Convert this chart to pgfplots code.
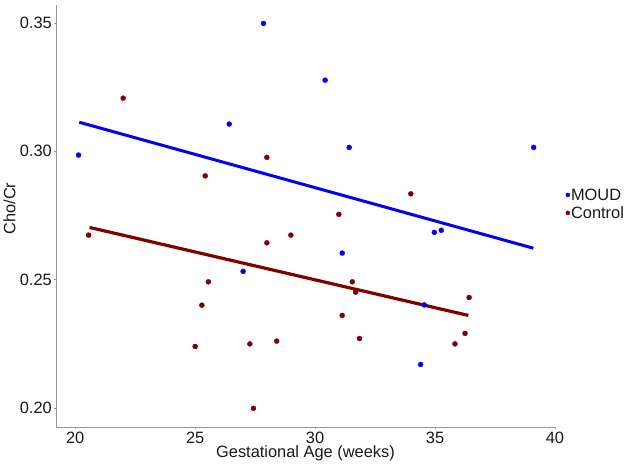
\documentclass[border=0pt]{standalone}
\usepackage{fontspec}
\setmainfont{Liberation Sans}
\usepackage{pgfplots}
\pgfplotsset{compat=1.18}
\definecolor{moud}{RGB}{0,0,255}
\definecolor{ctrl}{RGB}{128,0,0}
\definecolor{axgrey}{RGB}{150,150,150}
\newcommand{\chartfont}{\fontsize{16.4}{19}\selectfont}

\begin{document}
\begin{tikzpicture}
\begin{axis}[
  at={(0,0)}, anchor=south west,
  scale only axis, width=499pt, height=422.3pt,
  xmin=19.2, xmax=40, ymin=0.1924, ymax=0.357,
  axis lines=left,
  axis line style={axgrey, line width=0.8pt, -},
  xtick={20,25,30,35,40},
  ytick={0.20,0.25,0.30,0.35},
  /pgf/number format/assume math mode=true,
  yticklabel style={/pgf/number format/fixed,
    /pgf/number format/fixed zerofill,
    /pgf/number format/precision=2},
  tick align=outside, major tick length=2pt,
  tick style={axgrey, line width=0.6pt},
  tick label style={font=\chartfont, text=black!90, inner sep=0pt},
  xticklabel style={anchor=north, yshift=-2.5pt},
  yticklabel style={anchor=east, xshift=-2pt},
  xlabel={Gestational Age (weeks)},
  ylabel={Cho/Cr},
  label style={font=\chartfont, text=black!90, inner sep=0pt},
  xlabel style={at={(axis description cs:0.5,0)}, anchor=base, yshift=-30.2pt},
  ylabel style={at={(axis description cs:-0.0812,0.518)}, anchor=base},
  legend style={at={(axis description cs:1.021,0.529)}, anchor=west,
    draw=none, fill=none, font=\chartfont, text=black!90, inner sep=0pt,
    row sep=3pt,
    nodes={inner sep=1pt, text height=12pt, text depth=1pt}},
  legend cell align=left,
  legend image code/.code={\fill (0,0) circle (2pt);},
  clip=false,
]
% MOUD participants
\addplot[only marks, mark=*, mark size=2.5pt, color=moud] coordinates {
  (20.14,0.2985) (26.42,0.3106) (27.85,0.3498) (30.42,0.3277)
  (31.42,0.3015) (39.11,0.3015) (34.97,0.2684) (35.26,0.2692)
  (31.13,0.2603) (27.00,0.2532) (34.55,0.2401) (34.40,0.2169)
};
\addlegendentry{MOUD}
% Control participants
\addplot[only marks, mark=*, mark size=2.5pt, color=ctrl] coordinates {
  (22.00,0.3207) (25.42,0.2904) (27.99,0.2976) (28.99,0.2673)
  (20.56,0.2673) (33.99,0.2834) (30.99,0.2754) (27.99,0.2643)
  (25.55,0.2491) (25.28,0.2400) (25.00,0.2239) (27.28,0.2249)
  (28.40,0.2260) (27.43,0.1998) (31.55,0.2491) (31.69,0.2451)
  (31.13,0.2360) (31.85,0.2270) (36.42,0.2430) (36.25,0.2290)
  (35.83,0.2249)
};
\addlegendentry{Control}
% Linear fits
\addplot[forget plot, color=moud, line width=3pt] coordinates {(20.17,0.3113) (39.10,0.2622)};
\addplot[forget plot, color=ctrl, line width=3.2pt] coordinates {(20.60,0.2703) (36.39,0.2360)};
\end{axis}
\pgfresetboundingbox
\useasboundingbox (-56pt,-38.7pt) rectangle (574pt,427.3pt);
\end{tikzpicture}
\end{document}
